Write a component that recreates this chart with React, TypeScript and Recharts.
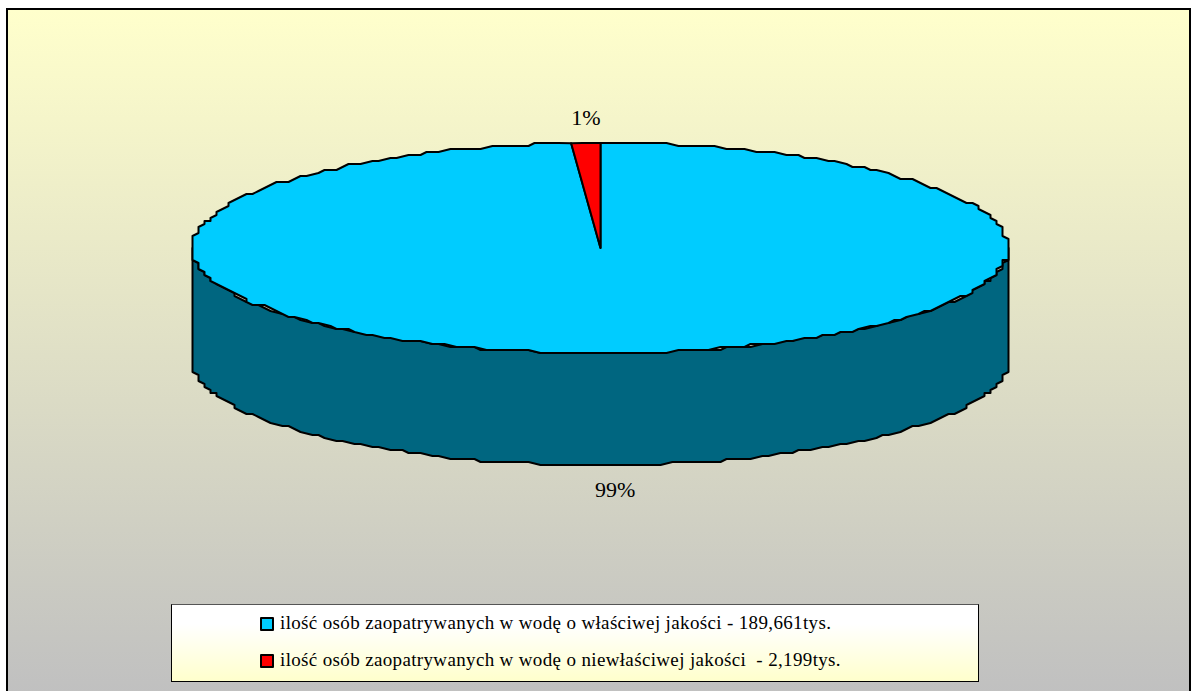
import React from 'react';
import { PieChart, Pie, Legend } from 'recharts';

const categories = [
  'ilość osób zaopatrywanych w wodę o właściwej jakości - 189,661tys.',
  'ilość osób zaopatrywanych w wodę o niewłaściwej jakości  - 2,199tys.',
];
const values = [189.661, 2.199];
const colors = ['#00CCFF', '#FF0000'];
const sideColors = ['#006680', '#800000'];

const data = categories.map((name, i) => ({
  name,
  value: values[i],
  fill: colors[i],
  side: sideColors[i],
}));

const WIDTH = 1195;
const HEIGHT = 691;
const SQUASH = 105 / 408; // ellipse ratio of the tilted top
const DEPTH = 112;
const RAD = Math.PI / 180;

// the original outline is a coarse metafile polygon, so snap the samples to a grid
const snap = (v: number, grid: number) => Math.round(v / grid) * grid;

const rim = (cx: number, cy: number, r: number, from: number, to: number) => {
  const n = Math.max(2, Math.ceil(Math.abs(to - from) / 1.6));
  const pts: string[] = [];
  for (let i = 0; i <= n; i++) {
    const a = (from + ((to - from) * i) / n) * RAD;
    const x = cx + r * Math.cos(a);
    const y = cy - r * SQUASH * Math.sin(a);
    const edge = i === 0 || i === n;
    pts.push(`${edge ? x : snap(x - cx, 6) + cx},${edge ? y : snap(y - cy, 3) + cy}`);
  }
  return pts;
};

const TiltedSlice = (props: any) => {
  const { cx, cy, outerRadius, startAngle, endAngle, fill, side } = props;
  const lo = Math.min(startAngle, endAngle);
  const hi = Math.max(startAngle, endAngle);
  // part of the slice that faces the viewer (sin < 0)
  const wallFrom = Math.max(lo, -180);
  const wallTo = Math.min(hi, 0);
  const top = rim(cx, cy, outerRadius, startAngle, endAngle);
  let wall = null;
  if (wallTo > wallFrom) {
    const upper = rim(cx, cy, outerRadius, wallFrom, wallTo);
    const lower = rim(cx, cy + DEPTH, outerRadius, wallTo, wallFrom);
    wall = (
      <path
        d={`M${upper.join('L')}L${lower.join('L')}Z`}
        fill={side}
        stroke="#000"
        strokeWidth={2}
        strokeLinejoin="round"
      />
    );
  }
  return (
    <g>
      {wall}
      <path
        d={`M${cx},${cy}L${top.join('L')}Z`}
        fill={fill}
        stroke="#000"
        strokeWidth={2}
        strokeLinejoin="round"
      />
    </g>
  );
};

const renderLabel = (props: any) => {
  const { cx, cy, midAngle, outerRadius, percent } = props;
  const x = cx + outerRadius * Math.cos(midAngle * RAD);
  const below = Math.sin(midAngle * RAD) < 0;
  const y = below ? cy + outerRadius * SQUASH + DEPTH + 24 : cy - outerRadius * SQUASH - 26;
  return (
    <text
      x={x}
      y={y}
      textAnchor="middle"
      dominantBaseline="central"
      fontFamily="'Liberation Serif', serif"
      fontSize={22}
      fill="#000"
    >
      {`${Math.round(percent * 100)}%`}
    </text>
  );
};

const LegendBox = () => (
  <div
    style={{
      width: 806,
      height: 76,
      border: '1px solid #000',
      borderTopColor: '#555',
      borderTopWidth: 1,
      background: 'linear-gradient(#ffffff 25%, #ffffcc 100%)',
      fontFamily: "'Liberation Serif', serif",
      fontSize: 19,
      color: '#000',
      position: 'relative',
    }}
  >
    {data.map((d, i) => (
      <div
        key={d.name}
        style={{
          position: 'absolute',
          left: 88,
          top: 7 + i * 37,
          whiteSpace: 'pre',
          lineHeight: '22px',
          letterSpacing: '0.35px',
        }}
      >
        <span
          style={{
            position: 'absolute',
            left: 0,
            top: 5,
            width: 10,
            height: 10,
            background: d.fill,
            border: '2px solid #000',
            borderRadius: 1,
          }}
        />
        <span style={{ marginLeft: 20 }}>{d.name}</span>
      </div>
    ))}
  </div>
);

export default function App() {
  return (
    <div
      style={{
        position: 'fixed',
        left: 0,
        top: 0,
        width: WIDTH,
        height: HEIGHT,
        overflow: 'hidden',
        background: '#fff',
      }}
    >
      <div
        style={{
          position: 'absolute',
          left: 6,
          top: 8,
          width: 1181,
          height: 683,
          borderLeft: '2px solid #000',
          borderRight: '2px solid #000',
          borderTop: '2px solid #000',
          background: 'linear-gradient(#ffffcc 0%, #c0c0c0 100%)',
        }}
      />
      <div style={{ position: 'absolute', left: 0, top: 0 }}>
        <PieChart width={WIDTH} height={HEIGHT} margin={{ top: 0, right: 0, bottom: 0, left: 0 }}>
          <Pie
            data={data}
            dataKey="value"
            nameKey="name"
            cx={600.5}
            cy={248}
            innerRadius={0}
            outerRadius={408}
            startAngle={90}
            endAngle={-270}
            stroke="#000"
            label={renderLabel}
            labelLine={false}
            shape={TiltedSlice}
            inactiveShape={TiltedSlice}
            isAnimationActive={false}
          />
          <Legend
            content={<LegendBox />}
            layout="vertical"
            wrapperStyle={{ left: 171, top: 604, width: 808, height: 78 }}
          />
        </PieChart>
      </div>
    </div>
  );
}
